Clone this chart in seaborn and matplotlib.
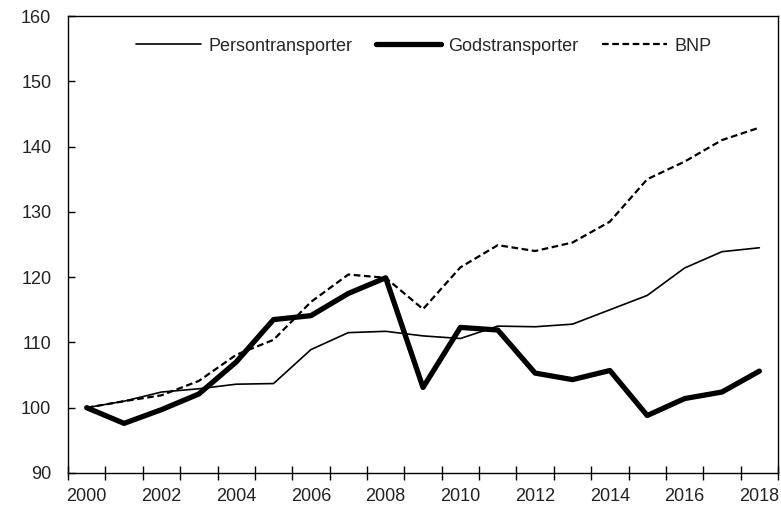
import numpy as np
import pandas as pd
import matplotlib
matplotlib.use("Agg")
import matplotlib.pyplot as plt
import seaborn as sns

# -----------------------------
# Data (index, 2000 = 100)
# -----------------------------
years = list(range(2000, 2019))
persontransporter = [100.0, 101.0, 102.4, 102.9, 103.6, 103.7, 108.9, 111.5, 111.7, 111.0,
                     110.6, 112.5, 112.4, 112.8, 115.0, 117.2, 121.4, 123.9, 124.5]
godstransporter = [100.0, 97.6, 99.7, 102.1, 107.0, 113.5, 114.1, 117.5, 119.9, 103.1,
                   112.3, 111.9, 105.3, 104.3, 105.7, 98.8, 101.4, 102.4, 105.6]
bnp = [100.0, 101.0, 101.9, 104.1, 108.1, 110.4, 116.2, 120.4, 119.9, 115.1,
       121.5, 124.9, 124.0, 125.3, 128.5, 135.0, 137.7, 141.0, 142.9]

df = pd.DataFrame({"År": years, "Persontransporter": persontransporter,
                   "Godstransporter": godstransporter, "BNP": bnp})

sns.set_theme(style="white")
plt.rcParams["font.family"] = ["Liberation Sans Narrow", "Liberation Sans", "DejaVu Sans"]

fig = plt.figure(figsize=(7.81, 5.07), dpi=100)
ax = fig.add_axes([0.0871, 0.0671, 0.9091, 0.9013])

sns.lineplot(data=df, x="År", y="Persontransporter", ax=ax, color="black",
             linewidth=1.2, label="Persontransporter")
sns.lineplot(data=df, x="År", y="Godstransporter", ax=ax, color="black",
             linewidth=3.8, label="Godstransporter")
sns.lineplot(data=df, x="År", y="BNP", ax=ax, color="black",
             linewidth=1.6, linestyle=(0, (3.0, 1.6)), label="BNP")

# axlar
ax.set_xlim(1999.5, 2018.5)
ax.set_ylim(90, 160)
ax.set_yticks(range(90, 161, 10))
ax.set_xticks(np.arange(1999.5, 2019, 1))
ax.set_xticklabels([])
ax.set_xticks(years[::2], [str(y) for y in years[::2]], minor=True)
ax.tick_params(axis="x", which="major", bottom=True, direction="inout", length=10,
               width=1, color="black")
ax.tick_params(axis="x", which="minor", bottom=True, length=0, labelsize=13, pad=11,
               labelcolor="#222222")
ax.tick_params(axis="y", left=True, direction="in", length=5, width=1, color="black",
               labelsize=13, pad=12, labelcolor="#222222")
for s in ax.spines.values():
    s.set_color("black")
    s.set_linewidth(1)
ax.set_xlabel("")
ax.set_ylabel("")

ax.legend(loc="center", bbox_to_anchor=(0.501, 0.934), ncol=3, frameon=False,
          fontsize=13, handlelength=3.6, columnspacing=1.3, handletextpad=0.4)

fig.savefig("out.png", dpi=100)
